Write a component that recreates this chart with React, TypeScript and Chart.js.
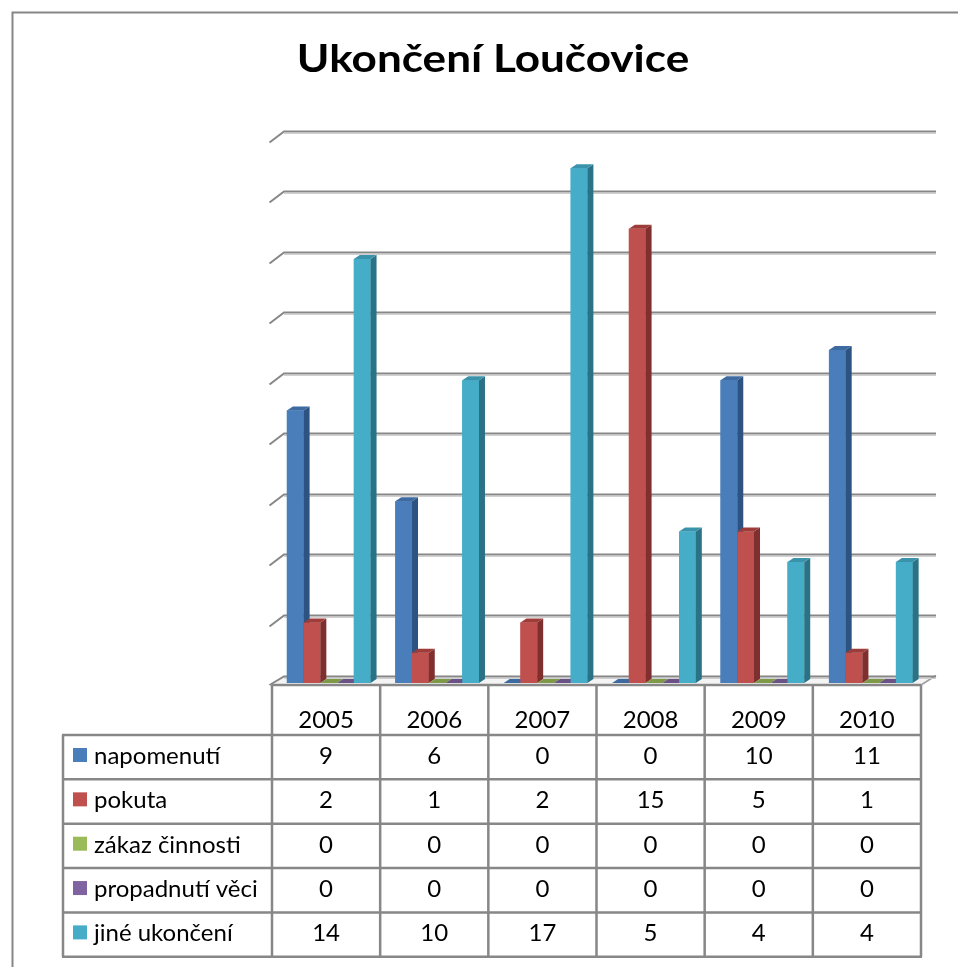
import React, { useEffect, useRef } from "react";
import { Chart, registerables } from "chart.js";

Chart.register(...registerables);

const TITLE = "Ukončení Loučovice";
const categories = ["2005", "2006", "2007", "2008", "2009", "2010"];
const seriesNames = ["napomenutí", "pokuta", "zákaz činnosti", "propadnutí věci", "jiné ukončení"];
const napomenuti = [9, 6, 0, 0, 10, 11];
const pokuta = [2, 1, 2, 15, 5, 1];
const zakazCinnosti = [0, 0, 0, 0, 0, 0];
const propadnutiVeci = [0, 0, 0, 0, 0, 0];
const jineUkonceni = [14, 10, 17, 5, 4, 4];
const yMax = 18;
const yStep = 2;

const frontColors = ["#4A7EBB", "#C0504D", "#9BBB59", "#8064A2", "#45ADC7"];
const sideColors = ["#2C5382", "#7F302E", "#6B833B", "#574370", "#2A7386"];
const topColors = ["#3D6AA0", "#9E3C3A", "#7F9A47", "#6A5287", "#3A93AB"];

const W = 958;
const H = 967;
const LINE = "#878787";
const FONT = "Lato, 'Open Sans', 'Liberation Sans', sans-serif";

const threeD = {
  id: "threeD",
  beforeDraw(chart: any) {
    const ctx = chart.ctx;
    ctx.save();
    ctx.fillStyle = "#ffffff";
    ctx.fillRect(0, 0, W, H);
    // outer frame
    ctx.strokeStyle = "#868686";
    ctx.lineWidth = 2;
    ctx.beginPath();
    ctx.moveTo(12.5, H);
    ctx.lineTo(12.5, 12.5);
    ctx.lineTo(W, 12.5);
    ctx.stroke();
    // title
    ctx.fillStyle = "#000";
    ctx.font = `bold 38px ${FONT}`;
    ctx.textAlign = "center";
    ctx.textBaseline = "alphabetic";
    ctx.translate(493, 72);
    ctx.scale(1.16, 1);
    ctx.fillText(TITLE, 0, 0);
    ctx.restore();
  },
  beforeDatasetsDraw(chart: any) {
    const ctx = chart.ctx;
    const ca = chart.chartArea;
    const y = chart.scales.y;
    const bx0 = ca.left + 9.5;
    const bx1 = ca.right + 11;
    const fx0 = ca.left - 5;
    ctx.save();
    // floor
    const floorFront = 685;
    const floorBack = y.getPixelForValue(0) - 7.5;
    ctx.fillStyle = "#f4f4f4";
    ctx.beginPath();
    ctx.moveTo(fx0, floorFront);
    ctx.lineTo(bx0, floorBack);
    ctx.lineTo(bx1, floorBack);
    ctx.lineTo(bx1 - 15, floorFront);
    ctx.closePath();
    ctx.fill();
    ctx.strokeStyle = "#a0a0a0";
    ctx.lineWidth = 1.5;
    ctx.beginPath();
    ctx.moveTo(bx1, floorBack);
    ctx.lineTo(bx1 - 15, floorFront);
    ctx.stroke();
    for (let v = 0; v <= yMax; v += yStep) {
      const by = Math.round(y.getPixelForValue(v) - 7.5) + 0.5;
      const fy = v === 0 ? floorFront : by + 11;
      ctx.strokeStyle = "#d0d0d0";
      ctx.lineWidth = 1;
      ctx.beginPath();
      ctx.moveTo(bx0, by + 2);
      ctx.lineTo(bx1, by + 2);
      ctx.stroke();
      ctx.strokeStyle = LINE;
      ctx.lineWidth = 2;
      ctx.beginPath();
      ctx.moveTo(fx0, fy);
      ctx.lineTo(bx0, by);
      ctx.lineTo(bx1, by);
      ctx.stroke();
    }
    ctx.restore();
  },
  afterDatasetsDraw(chart: any) {
    const ctx = chart.ctx;
    const dx = 6;
    const dy = 4;
    ctx.save();
    const n = chart.data.labels.length;
    const nd = chart.data.datasets.length;
    for (let i = 0; i < n; i++) {
      for (let d = 0; d < nd; d++) {
        const el: any = chart.getDatasetMeta(d).data[i];
        const left = el.x - el.width / 2;
        const right = el.x + el.width / 2;
        const top = Math.min(el.y, el.base);
        const bottom = Math.max(el.y, el.base);
        // front
        ctx.fillStyle = frontColors[d];
        ctx.fillRect(left, top, right - left, bottom - top);
        // side
        ctx.fillStyle = sideColors[d];
        ctx.beginPath();
        ctx.moveTo(right, top);
        ctx.lineTo(right + dx, top - dy);
        ctx.lineTo(right + dx, bottom - dy);
        ctx.lineTo(right, bottom);
        ctx.closePath();
        ctx.fill();
        // top
        ctx.fillStyle = topColors[d];
        ctx.beginPath();
        ctx.moveTo(left, top);
        ctx.lineTo(left + dx, top - dy);
        ctx.lineTo(right + dx, top - dy);
        ctx.lineTo(right, top);
        ctx.closePath();
        ctx.fill();
      }
    }
    ctx.restore();
  },
  afterDraw(chart: any) {
    const ctx = chart.ctx;
    const ca = chart.chartArea;
    const colLeft = ca.left - 2.5;
    const colRight = ca.right - 4;
    const colW = (colRight - colLeft) / categories.length;
    const tableLeft = 63;
    const headTop = 685;
    const rowTop0 = 735;
    const rowH = 44.35;
    const nRows = seriesNames.length;
    const tableBottom = rowTop0 + nRows * rowH;
    ctx.save();
    ctx.strokeStyle = LINE;
    ctx.lineWidth = 2.5;
    // verticals
    ctx.beginPath();
    for (let c = 0; c <= categories.length; c++) {
      const x = colLeft + c * colW;
      ctx.moveTo(x, headTop);
      ctx.lineTo(x, tableBottom);
    }
    ctx.moveTo(tableLeft, rowTop0);
    ctx.lineTo(tableLeft, tableBottom);
    // horizontals
    ctx.moveTo(colLeft, headTop);
    ctx.lineTo(colRight, headTop);
    for (let r = 0; r <= nRows; r++) {
      const yy = rowTop0 + r * rowH;
      ctx.moveTo(tableLeft - 1, yy);
      ctx.lineTo(colRight + 1, yy);
    }
    ctx.stroke();

    ctx.fillStyle = "#000";
    ctx.font = `24px ${FONT}`;
    ctx.textBaseline = "alphabetic";
    ctx.textAlign = "center";
    categories.forEach((c, i) => {
      ctx.fillText(c, colLeft + (i + 0.5) * colW, 728);
    });
    const series = chart.data.datasets;
    for (let r = 0; r < nRows; r++) {
      const rt = rowTop0 + r * rowH;
      ctx.fillStyle = frontColors[r];
      ctx.fillRect(73, rt + 13, 14, 14);
      ctx.fillStyle = "#000";
      ctx.textAlign = "left";
      ctx.fillText(seriesNames[r], 94, rt + 29);
      ctx.textAlign = "center";
      series[r].data.forEach((v: number, i: number) => {
        ctx.fillText(String(v), colLeft + (i + 0.5) * colW, rt + 29);
      });
    }
    ctx.restore();
  },
};

export default function App() {
  const ref = useRef<HTMLCanvasElement>(null);
  useEffect(() => {
    if (!ref.current) return;
    const seriesData = [napomenuti, pokuta, zakazCinnosti, propadnutiVeci, jineUkonceni];
    const chart = new Chart(ref.current, {
      type: "bar",
      data: {
        labels: categories,
        datasets: seriesNames.map((name, i) => ({
          label: name,
          data: seriesData[i],
          backgroundColor: frontColors[i],
          borderWidth: 0,
          barPercentage: 1,
          categoryPercentage: 0.772,
        })),
      },
      options: {
        responsive: false,
        animation: false,
        layout: { padding: { left: 274.5, right: 33, top: 138, bottom: H - 683 } },
        plugins: {
          legend: { display: false },
          title: { display: false },
          tooltip: { enabled: false },
        },
        scales: {
          x: { display: false },
          y: { display: false, min: 0, max: yMax, ticks: { stepSize: yStep } },
        },
      },
      plugins: [threeD],
    });
    return () => chart.destroy();
  }, []);
  return (
    <div style={{ position: "fixed", left: 0, top: 0, width: W, height: H, background: "#fff" }}>
      <canvas ref={ref} width={W} height={H} style={{ width: W, height: H, display: "block" }} />
    </div>
  );
}
